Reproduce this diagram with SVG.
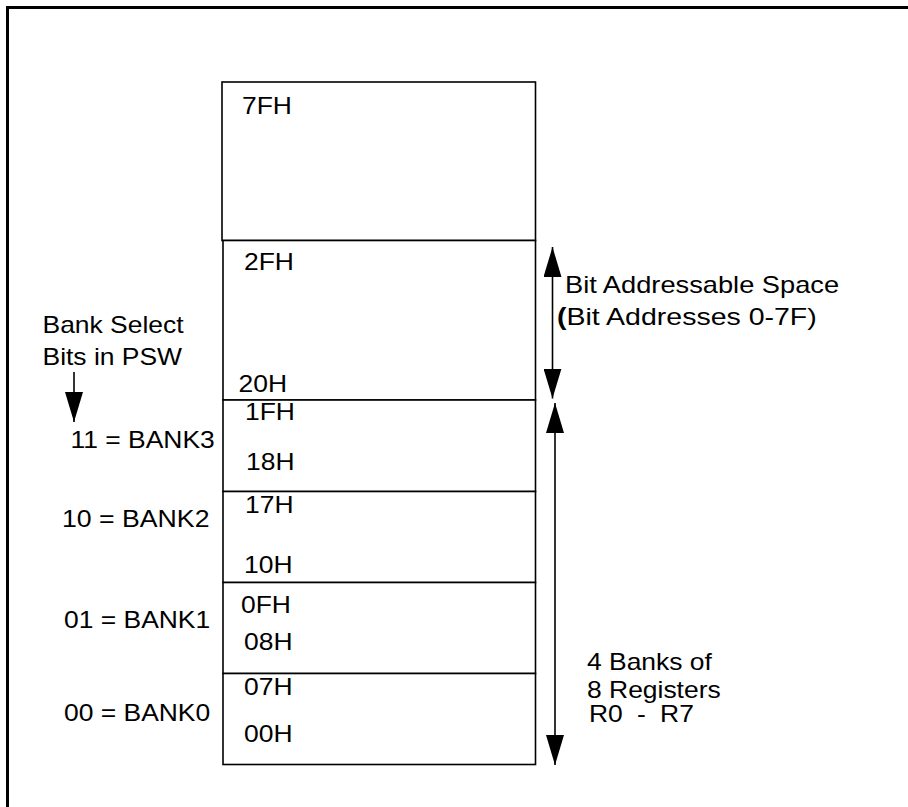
<svg xmlns="http://www.w3.org/2000/svg" width="908" height="807" viewBox="0 0 908 807">
<style>
.t{font-family:"Liberation Sans",Arial,sans-serif;font-size:23px;fill:#000}
.b{fill:#fff;stroke:#000;stroke-width:1.6}
.c{fill:none;stroke:#000;stroke-width:1.6}
</style>
<defs>
<marker id="ah" viewBox="0 0 30 18" refX="30" refY="9" markerWidth="30" markerHeight="18" markerUnits="userSpaceOnUse" orient="auto-start-reverse">
<path d="M0,0 L30,9 L0,18 z" fill="#000"/>
</marker>
</defs>
<rect width="908" height="807" fill="#fff"/>
<path d="M7.5,807 V7.5 H908" fill="none" stroke="#000" stroke-width="3"/>

<g id="block-7F">
<rect class="b" x="222" y="82" width="313.5" height="158.5"/>
<text class="t" transform="translate(242 114) scale(1.15 1)">7FH</text>
</g>
<g id="block-bit">
<rect class="b" x="223" y="240.5" width="312.5" height="159.5"/>
<text class="t" transform="translate(244 269.5) scale(1.15 1)">2FH</text>
<text class="t" transform="translate(238.5 392) scale(1.15 1)">20H</text>
</g>
<g id="bank3">
<rect class="b" x="223" y="400" width="312.5" height="91.5"/>
<text class="t" transform="translate(245 419.5) scale(1.15 1)">1FH</text>
<text class="t" transform="translate(246 470) scale(1.15 1)">18H</text>
</g>
<g id="bank2">
<rect class="b" x="223" y="491.5" width="312.5" height="91"/>
<text class="t" transform="translate(245 513) scale(1.15 1)">17H</text>
<text class="t" transform="translate(244 573) scale(1.15 1)">10H</text>
</g>
<g id="bank1">
<rect class="b" x="223" y="582.5" width="312.5" height="91"/>
<text class="t" transform="translate(241 613) scale(1.15 1)">0FH</text>
<text class="t" transform="translate(244 650) scale(1.15 1)">08H</text>
</g>
<g id="bank0">
<rect class="b" x="223" y="673.5" width="312.5" height="91"/>
<text class="t" transform="translate(244 695) scale(1.15 1)">07H</text>
<text class="t" transform="translate(244 742) scale(1.15 1)">00H</text>
</g>

<g id="bank-select-label">
<text class="t" transform="translate(42.5 332.5) scale(1.15 1)">Bank Select</text>
<text class="t" transform="translate(42.5 364.5) scale(1.15 1)">Bits in PSW</text>
</g>
<g id="bank-labels">
<text class="t" transform="translate(70.5 448) scale(1.15 1)">11 = BANK3</text>
<text class="t" transform="translate(62 527) scale(1.16 1)">10 = BANK2</text>
<text class="t" transform="translate(64 627.5) scale(1.15 1)">01 = BANK1</text>
<text class="t" transform="translate(64 720.5) scale(1.15 1)">00 = BANK0</text>
</g>
<g id="bit-label">
<text class="t" transform="translate(565 293) scale(1.185 1)">Bit Addressable Space</text>
<text class="t" transform="translate(557 325) scale(1.24 1)"><tspan font-weight="bold">(</tspan>Bit Addresses 0-7F)</text>
</g>
<g id="banks-label">
<text class="t" transform="translate(587 670) scale(1.15 1)">4 Banks of</text>
<text class="t" transform="translate(587 698) scale(1.15 1)">8 Registers</text>
<text class="t" style="word-spacing:6px" transform="translate(589 722) scale(1.15 1)">R0 - R7</text>
</g>

<g id="connectors">
<path class="c" d="M74,372 V422" marker-end="url(#ah)"/>
<path class="c" d="M552.5,247 V398.5" marker-start="url(#ah)" marker-end="url(#ah)"/>
<path class="c" d="M555,403 V765" marker-start="url(#ah)" marker-end="url(#ah)"/>
</g>
</svg>
